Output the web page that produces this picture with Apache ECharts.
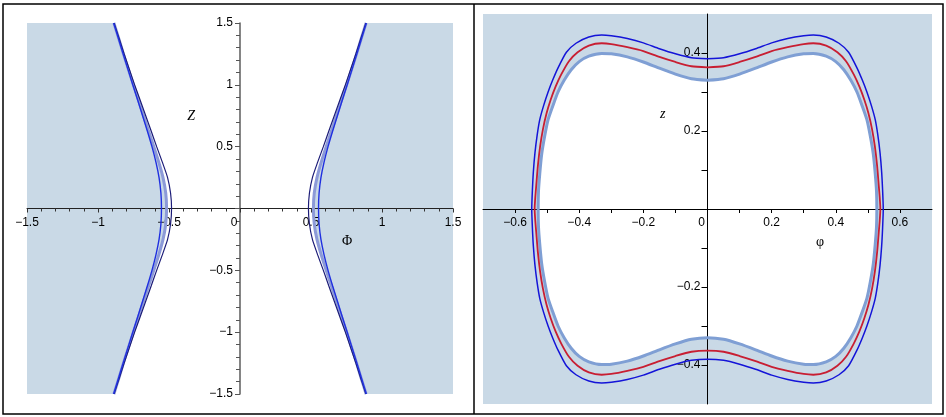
<!DOCTYPE html>
<html>
<head>
<meta charset="utf-8">
<script src="https://cdn.jsdelivr.net/npm/echarts@6/dist/echarts.min.js"></script>
<style>
  html, body { margin: 0; padding: 0; background: #fff; }
  #chart { width: 946px; height: 417px; }
</style>
</head>
<body>
<div id="chart"></div>
<script>
const zLevels = [0, 0.125, 0.25, 0.375, 0.5, 0.625, 0.75, 0.875, 1.0, 1.125, 1.25, 1.375, 1.5];
const navyX  = [0.482, 0.489, 0.510, 0.547, 0.587, 0.625, 0.664, 0.703, 0.742, 0.779, 0.816, 0.851, 0.887];
const blueX  = [0.553, 0.557, 0.570, 0.592, 0.620, 0.652, 0.686, 0.720, 0.755, 0.789, 0.823, 0.856, 0.890];
const boundX = [0.517, 0.523, 0.542, 0.572, 0.607, 0.643, 0.679, 0.715, 0.751, 0.786, 0.821, 0.854, 0.888];

// right panel: first quadrant of each ring, from the z axis crossing to the phi axis crossing
const outerRing = [[0, 0.385], [0.05, 0.388], [0.1, 0.398], [0.15, 0.411], [0.2, 0.426], [0.25, 0.437],
  [0.3, 0.444], [0.33, 0.446], [0.37, 0.441], [0.41, 0.425], [0.44, 0.402], [0.466, 0.362], [0.483, 0.330],
  [0.497, 0.300], [0.511, 0.265], [0.523, 0.229], [0.531, 0.190], [0.538, 0.144], [0.543, 0.095],
  [0.546, 0.048], [0.548, 0]];
const midRing = [[0, 0.363], [0.05, 0.366], [0.1, 0.377], [0.15, 0.390], [0.2, 0.405], [0.25, 0.415],
  [0.3, 0.423], [0.33, 0.425], [0.37, 0.419], [0.405, 0.402], [0.432, 0.379], [0.456, 0.345], [0.474, 0.313],
  [0.489, 0.280], [0.502, 0.245], [0.513, 0.205], [0.522, 0.160], [0.529, 0.110], [0.534, 0.060],
  [0.537, 0.030], [0.539, 0]];
const innerRing = [[0, 0.330], [0.05, 0.334], [0.1, 0.346], [0.15, 0.361], [0.2, 0.377], [0.25, 0.390],
  [0.3, 0.398], [0.33, 0.399], [0.37, 0.392], [0.40, 0.378], [0.425, 0.357], [0.447, 0.330], [0.466, 0.300],
  [0.482, 0.265], [0.497, 0.229], [0.508, 0.185], [0.517, 0.140], [0.523, 0.090], [0.527, 0.045],
  [0.528, 0]];

// tick values, right panel
const phiLabels = [-0.6, -0.4, -0.2, 0, 0.2, 0.4, 0.6];
const phiTicks = [-0.6, -0.5, -0.4, -0.3, -0.2, -0.1, 0, 0.1, 0.2, 0.3, 0.4, 0.5, 0.6];
const zLabels = [-0.4, -0.2, 0.2, 0.4];
const zTicks = [-0.4, -0.3, -0.2, -0.1, 0.1, 0.2, 0.3, 0.4];

const FILL = '#c9d9e6';
const FONT = 'Liberation Sans';
const SERIF = 'Liberation Serif';

// branch from z=-1.5 up to z=1.5
function branch(xs, s) {
  const pts = [];
  for (let i = zLevels.length - 1; i > 0; i--) pts.push([s * xs[i], -zLevels[i]]);
  for (let i = 0; i < zLevels.length; i++) pts.push([s * xs[i], zLevels[i]]);
  return pts;
}

// closed ring from a quadrant
function ringParts(q) {
  const q4 = q.slice(0, -1).reverse().map(p => [p[0], -p[1]]);
  const q3 = q.slice(1).map(p => [-p[0], -p[1]]);
  const q2 = q.slice(0, -1).reverse().map(p => [-p[0], p[1]]);
  return { q1: q, q4, q3, q2 };
}
function ring(q) {
  const r = ringParts(q);
  return [...r.q1, ...r.q4, ...r.q3, ...r.q2];
}

// shaded areas
const rb = branch(boundX, 1), lb = branch(boundX, -1);
const leftPolys = [
  [[1.5, 1.5], ...rb.slice().reverse(), [1.5, -1.5]],
  [[-1.5, 1.5], ...lb.slice().reverse(), [-1.5, -1.5]]
];
const ir = ringParts(innerRing);
const rightPolys = [
  [[0, 0.5], [0.7, 0.5], [0.7, -0.5], [0, -0.5], ...[...ir.q1, ...ir.q4].reverse()],
  [[0, 0.5], [-0.7, 0.5], [-0.7, -0.5], [0, -0.5], [0, -innerRing[0][1]], ...ir.q3, ...ir.q2]
];

function fillSeries(polys, gi) {
  return {
    type: 'custom', xAxisIndex: gi, yAxisIndex: gi, z: -1, silent: true,
    data: polys.map(() => [0, 0]),
    renderItem: (params, api) => ({
      type: 'polygon',
      shape: { points: polys[params.dataIndex].map(p => api.coord(p)) },
      style: { fill: FILL }
    })
  };
}

function curve(data, gi, color, w) {
  return {
    type: 'line', xAxisIndex: gi, yAxisIndex: gi, data: data,
    symbol: 'none', smooth: 0.2, silent: true, z: 3,
    lineStyle: { color: color, width: w }
  };
}

function fmt(v) {
  return v === 0 ? '{o|0}' : String(v).replace('-', '\u2212');
}
const rich = { o: { fontFamily: FONT, fontSize: 12, color: '#000', padding: [0, 12, 0, 0] } };
const labelStyle = { fontFamily: FONT, fontSize: 12, color: '#000' };

// grid boxes; the axes are shifted to cross at the origin
const G0 = { left: 27, top: 23, width: 426, height: 371 };
const G1 = { left: 483, top: 14, width: 449, height: 390 };

const myChart = echarts.init(document.getElementById('chart'));
const option = {
  animation: false,
  grid: [
    Object.assign({ outerBoundsMode: 'none' }, G0),
    Object.assign({ outerBoundsMode: 'none' }, G1)
  ],
  xAxis: [
    {
      gridIndex: 0, type: 'value', min: -1.5, max: 1.5, interval: 0.5,
      position: 'bottom', offset: -G0.height / 2,
      axisLine: { onZero: false, lineStyle: { color: '#222', width: 1 } },
      axisTick: { length: 4, lineStyle: { color: '#333' } },
      minorTick: { show: true, splitNumber: 5, length: 3, lineStyle: { color: '#333' } },
      axisLabel: Object.assign({ margin: 8, formatter: fmt, rich: rich }, labelStyle),
      splitLine: { show: false },
      name: 'Φ', nameLocation: 'end', nameGap: -111,
      nameTextStyle: { fontFamily: SERIF, fontSize: 14, color: '#000', align: 'left', verticalAlign: 'top', padding: [26, 0, 0, 0] }
    },
    {
      gridIndex: 1, type: 'value', min: -0.7, max: 0.7,
      position: 'bottom', offset: -G1.height / 2,
      axisLine: { onZero: false, lineStyle: { color: '#000', width: 1 } },
      axisTick: { length: 4, customValues: phiTicks, lineStyle: { color: '#000' } },
      axisLabel: Object.assign({ margin: 8, customValues: phiLabels, formatter: fmt, rich: rich }, labelStyle),
      splitLine: { show: false },
      name: 'φ', nameLocation: 'end', nameGap: -116,
      nameTextStyle: { fontFamily: SERIF, fontSize: 14, color: '#000', align: 'left', verticalAlign: 'top', padding: [26, 0, 0, 0] }
    }
  ],
  yAxis: [
    {
      gridIndex: 0, type: 'value', min: -1.5, max: 1.5, interval: 0.5,
      position: 'left', offset: -G0.width / 2,
      axisLine: { onZero: false, lineStyle: { color: '#666', width: 1.6 } },
      axisTick: { length: 5, lineStyle: { color: '#555' } },
      minorTick: { show: true, splitNumber: 5, length: 4, lineStyle: { color: '#555' } },
      axisLabel: Object.assign({ margin: 7, formatter: v => (v === 0 ? '' : fmt(v)) }, labelStyle),
      splitLine: { show: false },
      name: 'Z', nameLocation: 'end', nameGap: -93,
      nameTextStyle: { fontFamily: SERIF, fontStyle: 'italic', fontSize: 14, color: '#000', align: 'right', verticalAlign: 'middle', padding: [0, 45, 0, 0] }
    },
    {
      gridIndex: 1, type: 'value', min: -0.5, max: 0.5,
      position: 'left', offset: -G1.width / 2,
      axisLine: { onZero: false, lineStyle: { color: '#000', width: 1 } },
      axisTick: { length: 6, customValues: zTicks, lineStyle: { color: '#000' } },
      axisLabel: Object.assign({ margin: 7, customValues: zLabels, formatter: fmt }, labelStyle),
      splitLine: { show: false },
      name: 'z', nameLocation: 'end', nameGap: -100,
      nameTextStyle: { fontFamily: SERIF, fontStyle: 'italic', fontSize: 14, color: '#000', align: 'right', verticalAlign: 'middle', padding: [0, 42, 0, 0] }
    }
  ],
  series: [
    fillSeries(leftPolys, 0),
    curve(rb, 0, '#8c9ad8', 3),
    curve(lb, 0, '#8c9ad8', 3),
    curve(branch(navyX, 1), 0, '#1c1c78', 1.2),
    curve(branch(navyX, -1), 0, '#1c1c78', 1.2),
    curve(branch(blueX, 1), 0, '#2030e0', 1.4),
    curve(branch(blueX, -1), 0, '#2030e0', 1.4),
    fillSeries(rightPolys, 1),
    curve(ring(innerRing), 1, '#7f9fd4', 3),
    curve(ring(midRing), 1, '#c81e32', 1.8),
    curve(ring(outerRing), 1, '#1414d8', 1.5)
  ],
  graphic: [
    { type: 'rect', shape: { x: 3, y: 4, width: 940, height: 410 }, style: { fill: 'none', stroke: '#000', lineWidth: 1.5 }, silent: true },
    { type: 'line', shape: { x1: 474, y1: 4, x2: 474, y2: 414 }, style: { stroke: '#000', lineWidth: 1.5 }, silent: true }
  ]
};

option && myChart.setOption(option);
</script>
</body>
</html>
